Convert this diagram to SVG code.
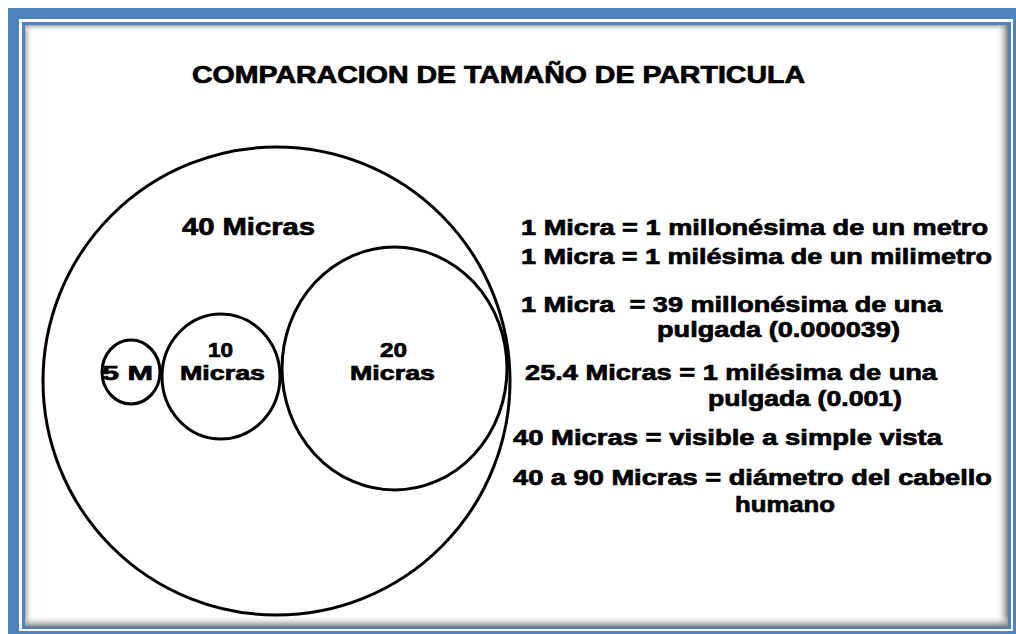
<svg xmlns="http://www.w3.org/2000/svg" width="1016" height="634" viewBox="0 0 1016 634">
<defs>
  <linearGradient id="shR" x1="0" y1="0" x2="1" y2="0">
    <stop offset="0" stop-color="#ffffff" stop-opacity="0"/>
    <stop offset="1" stop-color="#7a7a7a" stop-opacity="1"/>
  </linearGradient>
  <linearGradient id="shB" x1="0" y1="0" x2="0" y2="1">
    <stop offset="0" stop-color="#ffffff" stop-opacity="0"/>
    <stop offset="1" stop-color="#7a7a7a" stop-opacity="1"/>
  </linearGradient>
  <linearGradient id="shL" x1="0" y1="0" x2="1" y2="0">
    <stop offset="0" stop-color="#a8a8a8" stop-opacity="1"/>
    <stop offset="1" stop-color="#ffffff" stop-opacity="0"/>
  </linearGradient>
  <linearGradient id="shT" x1="0" y1="0" x2="0" y2="1">
    <stop offset="0" stop-color="#a8a8a8" stop-opacity="1"/>
    <stop offset="1" stop-color="#ffffff" stop-opacity="0"/>
  </linearGradient>
</defs>
<style>
  .t { font-family: "Liberation Sans", Arial, sans-serif; font-weight: bold; fill: #000; stroke: #000; stroke-width: 0.7; white-space: pre; }
  .c { fill: none; stroke: #000; stroke-width: 3; }
  .blue { fill: #4f81bd; }
</style>
<rect x="0" y="0" width="1016" height="634" fill="#ffffff"/>
<g id="frame">
  <rect class="blue" x="8" y="8" width="1020" height="640"/>
  <rect x="19" y="19" width="994" height="612" fill="#ffffff"/>
  <rect class="blue" x="22" y="22" width="989" height="607"/>
  <rect x="25" y="25" width="983" height="602" fill="#ffffff"/>
  <rect x="25" y="25" width="8" height="602" fill="url(#shL)"/>
  <rect x="25" y="25" width="983" height="7" fill="url(#shT)"/>
  <rect x="996" y="25" width="12" height="602" fill="url(#shR)"/>
  <rect x="25" y="615" width="983" height="12" fill="url(#shB)"/>
</g>
<text id="title" class="t" x="192" y="83" font-size="23" textLength="613" lengthAdjust="spacingAndGlyphs">COMPARACION DE TAMAÑO DE PARTICULA</text>
<g id="connectors"/>
<g id="circle40">
  <ellipse class="c" cx="276.5" cy="381" rx="233.5" ry="234"/>
  <text class="t" x="182" y="235" font-size="24" textLength="133" lengthAdjust="spacingAndGlyphs">40 Micras</text>
</g>
<g id="circle20">
  <ellipse class="c" cx="394.5" cy="368.5" rx="112.5" ry="121.5"/>
  <text class="t" x="380" y="357" font-size="20" textLength="27" lengthAdjust="spacingAndGlyphs">20</text>
  <text class="t" x="350" y="380" font-size="20" textLength="85" lengthAdjust="spacingAndGlyphs">Micras</text>
</g>
<g id="circle10">
  <ellipse class="c" cx="221" cy="376.5" rx="59" ry="62.5"/>
  <text class="t" x="208" y="357" font-size="20" textLength="25" lengthAdjust="spacingAndGlyphs">10</text>
  <text class="t" x="180" y="380" font-size="20" textLength="85" lengthAdjust="spacingAndGlyphs">Micras</text>
</g>
<g id="circle5">
  <ellipse class="c" cx="131" cy="372" rx="29" ry="32"/>
  <text class="t" x="102" y="380" font-size="20" textLength="51" lengthAdjust="spacingAndGlyphs">5 M</text>
</g>
<g id="legend">
  <text class="t" x="521" y="235" font-size="22" textLength="467" lengthAdjust="spacingAndGlyphs">1 Micra = 1 millonésima de un metro</text>
  <text class="t" x="521" y="264" font-size="22" textLength="471" lengthAdjust="spacingAndGlyphs">1 Micra = 1 milésima de un milimetro</text>
  <text class="t" x="521" y="312" font-size="22" textLength="421" lengthAdjust="spacingAndGlyphs">1 Micra  = 39 millonésima de una</text>
  <text class="t" x="657" y="337" font-size="22" textLength="243" lengthAdjust="spacingAndGlyphs">pulgada (0.000039)</text>
  <text class="t" x="525" y="380" font-size="22" textLength="412" lengthAdjust="spacingAndGlyphs">25.4 Micras = 1 milésima de una</text>
  <text class="t" x="708" y="406" font-size="22" textLength="194" lengthAdjust="spacingAndGlyphs">pulgada (0.001)</text>
  <text class="t" x="513" y="445" font-size="22" textLength="429" lengthAdjust="spacingAndGlyphs">40 Micras = visible a simple vista</text>
  <text class="t" x="513" y="485" font-size="22" textLength="479" lengthAdjust="spacingAndGlyphs">40 a 90 Micras = diámetro del cabello</text>
  <text class="t" x="735" y="512" font-size="22" textLength="100" lengthAdjust="spacingAndGlyphs">humano</text>
</g>
</svg>
